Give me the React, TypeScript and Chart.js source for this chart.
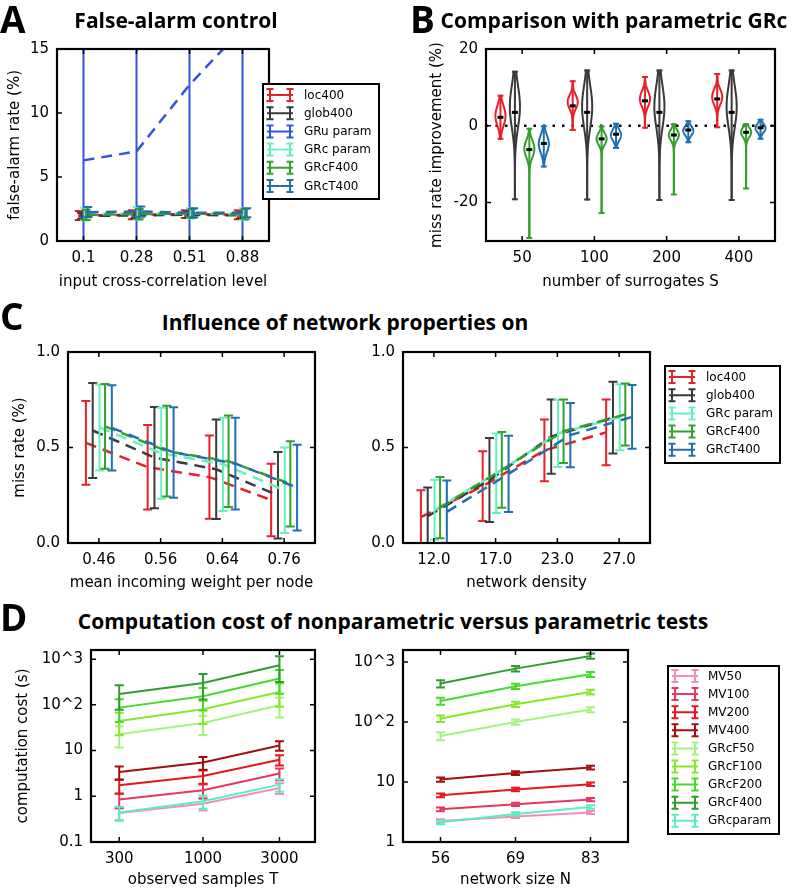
import React, { useEffect, useRef } from "react";
import { Chart, registerables } from "chart.js";

Chart.register(...registerables);

// ---------------- colours ----------------
const RED = "#e8202a";
const DARK = "#3a3a3a";
const ROYAL = "#3355dd";
const AQUA = "#66f0c0";
const GREEN = "#33a02c";
const STEEL = "#2070b0";

// ---------------- Panel A: false-alarm control ----------------
const aLevels = ["0.1", "0.28", "0.51", "0.88"];
const aNames = ["loc400", "glob400", "GRu param", "GRc param", "GRcF400", "GRcT400"];
const aColors = [RED, DARK, ROYAL, AQUA, GREEN, STEEL];
const aOffsets = [-0.08, -0.04, 0, 0.02, 0.05, 0.08];
const aLoc400 = [2.0, 2.05, 2.1, 2.05];
const aGlob400 = [1.95, 2.0, 2.05, 2.0];
const aGRuParam = [6.3, 7.0, 12.2, 16.6];
const aGRcParam = [2.1, 2.15, 2.15, 2.1];
const aGRcF400 = [2.05, 2.1, 2.15, 2.1];
const aGRcT400 = [2.25, 2.3, 2.2, 2.2];
const aLoc400Err = [0.35, 0.35, 0.3, 0.35];
const aGlob400Err = [0.25, 0.25, 0.25, 0.25];
const aGRuParamErr = [25, 25, 25, 25];
const aGRcParamErr = [0.5, 0.5, 0.4, 0.45];
const aGRcF400Err = [0.4, 0.4, 0.35, 0.4];
const aGRcT400Err = [0.4, 0.4, 0.35, 0.35];
const aYTicks = [0, 5, 10, 15];

// ---------------- Panel B: violins ----------------
const bGroups = ["50", "100", "200", "400"];
const bColors = [RED, DARK, GREEN, STEEL];
const bOffsets = [-0.3, -0.1, 0.1, 0.3];
const bMin = [
  [-3.4, -1.1, -0.5, -0.4],
  [-19.1, -19.2, -19.3, -19.3],
  [-29.2, -22.7, -17.9, -16.3],
  [-10.6, -5.8, -4.3, -3.4],
];
const bMax = [
  [7.8, 11.6, 12.7, 13.5],
  [14.1, 14.4, 14.4, 14.4],
  [-0.8, -0.2, 0.4, 0.4],
  [-0.1, 0.55, 1.2, 1.6],
];
const bMean = [
  [2.2, 5.2, 6.5, 7.0],
  [3.5, 3.5, 3.5, 3.5],
  [-6.2, -3.4, -2.4, -1.7],
  [-4.6, -2.2, -1.1, -0.5],
];
const bMode = [
  [2.6, 6.2, 7.0, 7.5],
  [5, 5, 5, 5],
  [-6, -3.4, -2.4, -1.7],
  [-4.7, -2.4, -1.3, -0.6],
];
const bSpread = [
  [2.6, 1.8, 2.0, 2.0],
  [5.5, 5.5, 5.5, 5.5],
  [2.2, 1.5, 1.4, 1.3],
  [2.3, 1.5, 1.2, 1.1],
];
const bHalfWidth = 0.07;
const bYTicks = [-20, 0, 20];

// ---------------- Panel C ----------------
const cNames = ["loc400", "glob400", "GRc param", "GRcF400", "GRcT400"];
const cColors = [RED, DARK, AQUA, GREEN, STEEL];
const cOffsets = [-0.21, -0.1, 0.01, 0.1, 0.21];
const cWeights = ["0.46", "0.56", "0.64", "0.76"];
const cwLoc400 = [0.524, 0.397, 0.345, 0.225];
const cwGlob400 = [0.589, 0.447, 0.386, 0.25];
const cwGRcParam = [0.605, 0.47, 0.412, 0.276];
const cwGRcF400 = [0.611, 0.481, 0.428, 0.31];
const cwGRcT400 = [0.603, 0.474, 0.416, 0.29];
const cwLoc400Err = [0.219, 0.221, 0.218, 0.19];
const cwGlob400Err = [0.249, 0.265, 0.26, 0.227];
const cwGRcParamErr = [0.225, 0.238, 0.244, 0.224];
const cwGRcF400Err = [0.222, 0.237, 0.24, 0.223];
const cwGRcT400Err = [0.223, 0.237, 0.24, 0.224];
const cDensity = ["12.0", "17.0", "23.0", "27.0"];
const cdLoc400 = [0.136, 0.298, 0.485, 0.579];
const cdGlob400 = [0.14, 0.33, 0.557, 0.656];
const cdGRcParam = [0.174, 0.365, 0.574, 0.658];
const cdGRcF400 = [0.185, 0.383, 0.585, 0.673];
const cdGRcT400 = [0.163, 0.362, 0.565, 0.66];
const cdLoc400Err = [0.14, 0.183, 0.162, 0.172];
const cdGlob400Err = [0.15, 0.22, 0.194, 0.188];
const cdGRcParamErr = [0.157, 0.208, 0.176, 0.173];
const cdGRcF400Err = [0.16, 0.198, 0.166, 0.162];
const cdGRcT400Err = [0.164, 0.2, 0.168, 0.167];
const cYTicks = [0, 0.5, 1.0];
const cYLabels = ["0.0", "0.5", "1.0"];

// ---------------- Panel D ----------------
const dNames = ["MV50", "MV100", "MV200", "MV400", "GRcF50", "GRcF100", "GRcF200", "GRcF400", "GRcparam"];
const dColors = ["#f48cb4", "#e8365e", "#e8141e", "#a50e0e", "#a6f27e", "#86e82a", "#44dc2c", "#2e9c2e", "#5aeec0"];
const dSamples = [300, 1000, 3000];
const dtMV50 = [0.43, 0.69, 1.52];
const dtMV100 = [0.85, 1.35, 3.14];
const dtMV200 = [1.74, 2.78, 6.3];
const dtMV400 = [3.4, 5.5, 12.9];
const dtGRcF50 = [22.7, 40, 98];
const dtGRcF100 = [44.5, 80, 191];
const dtGRcF200 = [87, 155, 376];
const dtGRcF400 = [173, 301, 735];
const dtGRcParam = [0.44, 0.78, 1.8];
const dtMV50Err = [0.13, 0.2, 0.4];
const dtMV100Err = [0.3, 0.45, 0.9];
const dtMV200Err = [0.6, 0.9, 1.6];
const dtMV400Err = [1.1, 1.7, 3.0];
const dtGRcF50Err = [11, 18, 45];
const dtGRcF100Err = [23, 42, 100];
const dtGRcF200Err = [45, 80, 200];
const dtGRcF400Err = [95, 170, 420];
const dtGRcParamErr = [0.15, 0.25, 0.55];
const dSizes = ["56", "69", "83"];
const dnMV50 = [2.24, 2.65, 3.1];
const dnMV100 = [3.5, 4.25, 5.1];
const dnMV200 = [6.0, 7.5, 9.2];
const dnMV400 = [11, 14.1, 17.4];
const dnGRcF50 = [58.5, 100, 161];
const dnGRcF100 = [114, 197, 316];
const dnGRcF200 = [224, 394, 624];
const dnGRcF400 = [437, 776, 1259];
const dnGRcParam = [2.13, 2.93, 3.83];
const dnMV50Err = [0.15, 0.15, 0.18];
const dnMV100Err = [0.25, 0.25, 0.3];
const dnMV200Err = [0.45, 0.5, 0.6];
const dnMV400Err = [0.9, 1.0, 1.2];
const dnGRcF50Err = [9, 10, 15];
const dnGRcF100Err = [14, 20, 30];
const dnGRcF200Err = [30, 40, 60];
const dnGRcF400Err = [60, 80, 130];
const dnGRcParamErr = [0.15, 0.2, 0.25];
const dLeftYTicks = [0.1, 1, 10, 100, 1000];
const dLeftYLabels = ["0.1", "1", "10", "10^2", "10^3"];
const dRightYTicks = [1, 10, 100, 1000];
const dRightYLabels = ["1", "10", "10^2", "10^3"];

// ---------------- styling helpers ----------------
const FAMILY = '"DejaVu Sans", sans-serif';
const TICK_FONT = { family: FAMILY, size: 15 };
const AXIS_FONT = { family: FAMILY, size: 15 };

type Box = { left: number; top: number; width: number; height: number };
type Plot = { l: number; t: number; r: number; b: number };

function errSeries(names: string[], colors: string[], xs: (j: number, i: number) => number, means: number[][], errs: number[][], dash: number[], width: number, cap: number) {
  return names.map((name, i) => ({
    label: name,
    data: means[i].map((v, j) => ({ x: xs(j, i), y: v })),
    err: errs[i],
    errCap: cap,
    borderColor: colors[i],
    backgroundColor: colors[i],
    borderWidth: width,
    borderDash: dash,
    pointRadius: 0,
    fill: false,
    tension: 0,
    order: names.length - i,
    legendItem: true,
  }));
}

function catX(labels: string[], title: string, min: number, max: number) {
  return {
    type: "linear",
    min,
    max,
    afterBuildTicks: (s: any) => {
      s.ticks = labels.map((_, i) => ({ value: i }));
    },
    ticks: { callback: (_v: any, i: number) => labels[i], autoSkip: false, maxRotation: 0, padding: 8, font: TICK_FONT, color: "#000" },
    grid: { display: false, drawTicks: false },
    border: { display: false },
    title: { display: true, text: title, font: AXIS_FONT, color: "#000", padding: { top: 4, bottom: 4 } },
  };
}

function valAxis(type: string, min: number, max: number, values: number[], labels: string[] | null, title: string | null, extra: any = {}) {
  return {
    type,
    min,
    max,
    afterBuildTicks: (s: any) => {
      s.ticks = values.map((v) => ({ value: v }));
    },
    ticks: {
      callback: (v: any, i: number) => (labels ? labels[i] : String(values[i])),
      autoSkip: false,
      maxRotation: 0,
      padding: 8,
      font: TICK_FONT,
      color: "#000",
    },
    grid: { display: false, drawTicks: false },
    border: { display: false },
    title: { display: !!title, text: title || "", font: AXIS_FONT, color: "#000", padding: { top: 4, bottom: 4 } },
    ...extra,
  };
}

// ---------------- plugins ----------------
const errorBarPlugin = {
  id: "errorBars",
  afterDatasetDraw(chart: any, args: any) {
    const ds = chart.data.datasets[args.index];
    if (!ds.err) return;
    const ctx = chart.ctx;
    const a = chart.chartArea;
    const ys = chart.scales[args.meta.yAxisID];
    const cap = ds.errCap ?? 4.5;
    ctx.save();
    ctx.beginPath();
    ctx.rect(a.left, a.top, a.right - a.left, a.bottom - a.top);
    ctx.clip();
    ctx.strokeStyle = ds.borderColor;
    ctx.lineWidth = 2;
    ctx.setLineDash([]);
    ds.data.forEach((p: any, i: number) => {
      const el = args.meta.data[i];
      if (!el) return;
      const x = el.x;
      const lo = ys.getPixelForValue(p.y - ds.err[i]);
      const hi = ys.getPixelForValue(p.y + ds.err[i]);
      ctx.beginPath();
      ctx.moveTo(x, lo);
      ctx.lineTo(x, hi);
      ctx.moveTo(x - cap, lo);
      ctx.lineTo(x + cap, lo);
      ctx.moveTo(x - cap, hi);
      ctx.lineTo(x + cap, hi);
      ctx.stroke();
    });
    ctx.restore();
  },
};

const framePlugin = {
  id: "frame",
  afterDraw(chart: any) {
    const ctx = chart.ctx;
    const a = chart.chartArea;
    const xs = chart.scales.x;
    const ys = chart.scales.y;
    const tl = 5;
    ctx.save();
    ctx.setLineDash([]);
    ctx.strokeStyle = "#000";
    ctx.lineWidth = 1.5;
    ctx.beginPath();
    xs.ticks.forEach((t: any) => {
      const px = xs.getPixelForValue(t.value);
      ctx.moveTo(px, a.bottom);
      ctx.lineTo(px, a.bottom - tl);
      ctx.moveTo(px, a.top);
      ctx.lineTo(px, a.top + tl);
    });
    ys.ticks.forEach((t: any) => {
      const py = ys.getPixelForValue(t.value);
      ctx.moveTo(a.left, py);
      ctx.lineTo(a.left + tl, py);
      ctx.moveTo(a.right, py);
      ctx.lineTo(a.right - tl, py);
    });
    ctx.stroke();
    ctx.lineWidth = 2.2;
    ctx.strokeRect(a.left, a.top, a.right - a.left, a.bottom - a.top);
    ctx.restore();
  },
};

const legendPlugin = {
  id: "boxLegend",
  afterDraw(chart: any, _args: any, opts: any) {
    if (!opts || !opts.show) return;
    const ctx = chart.ctx;
    const items = chart.data.datasets.filter((d: any) => d.legendItem);
    ctx.save();
    ctx.setLineDash([]);
    ctx.fillStyle = "#fff";
    ctx.fillRect(opts.x, opts.y, opts.w, opts.h);
    ctx.lineWidth = 2;
    ctx.strokeStyle = "#000";
    ctx.strokeRect(opts.x, opts.y, opts.w, opts.h);
    items.forEach((d: any, i: number) => {
      const cy = opts.firstY + i * opts.rowH;
      const x0 = opts.iconX;
      ctx.strokeStyle = d.borderColor;
      ctx.lineWidth = 2;
      ctx.beginPath();
      ctx.moveTo(x0, cy);
      ctx.lineTo(x0 + 26, cy);
      [x0 + 3, x0 + 23].forEach((px) => {
        ctx.moveTo(px, cy - 6);
        ctx.lineTo(px, cy + 6);
        ctx.moveTo(px - 3.5, cy - 6);
        ctx.lineTo(px + 3.5, cy - 6);
        ctx.moveTo(px - 3.5, cy + 6);
        ctx.lineTo(px + 3.5, cy + 6);
      });
      ctx.stroke();
      ctx.fillStyle = "#000";
      ctx.font = `12px ${FAMILY}`;
      ctx.textBaseline = "middle";
      ctx.textAlign = "left";
      ctx.fillText(d.label, opts.textX, cy + 0.5);
    });
    ctx.restore();
  },
};

const violinPlugin = {
  id: "violins",
  afterDatasetsDraw(chart: any) {
    const ctx = chart.ctx;
    const xs = chart.scales.x;
    const ys = chart.scales.y;
    ctx.save();
    ctx.setLineDash([]);
    bColors.forEach((color, s) => {
      bGroups.forEach((_g, g) => {
        const xv = g + bOffsets[s];
        const cx = xs.getPixelForValue(xv);
        const hw = Math.abs(xs.getPixelForValue(xv + bHalfWidth) - cx);
        const lo = bMin[s][g];
        const hi = bMax[s][g];
        const N = 80;
        const pts: [number, number][] = [];
        for (let k = 0; k <= N; k++) {
          const v = lo + ((hi - lo) * k) / N;
          const z = (v - bMode[s][g]) / bSpread[s][g];
          pts.push([hw * Math.exp(-0.5 * z * z), ys.getPixelForValue(v)]);
        }
        ctx.strokeStyle = color;
        ctx.lineWidth = 2;
        ctx.beginPath();
        pts.forEach(([w, y], k) => (k === 0 ? ctx.moveTo(cx + w, y) : ctx.lineTo(cx + w, y)));
        for (let k = pts.length - 1; k >= 0; k--) ctx.lineTo(cx - pts[k][0], pts[k][1]);
        ctx.closePath();
        ctx.stroke();
        const yLo = ys.getPixelForValue(lo);
        const yHi = ys.getPixelForValue(hi);
        ctx.beginPath();
        ctx.moveTo(cx, yLo);
        ctx.lineTo(cx, yHi);
        ctx.moveTo(cx - 3, yLo);
        ctx.lineTo(cx + 3, yLo);
        ctx.moveTo(cx - 3, yHi);
        ctx.lineTo(cx + 3, yHi);
        ctx.stroke();
        const ym = ys.getPixelForValue(bMean[s][g]);
        ctx.strokeStyle = "#000";
        ctx.lineWidth = 3;
        ctx.beginPath();
        ctx.moveTo(cx - 3, ym);
        ctx.lineTo(cx + 3, ym);
        ctx.stroke();
      });
    });
    ctx.restore();
  },
};

function buildConfig(box: Box, plot: Plot, datasets: any[], x: any, y: any, plugins: any[], legend: any) {
  return {
    type: "line",
    data: { datasets },
    options: {
      responsive: false,
      animation: false,
      events: [],
      layout: { padding: { left: 0, right: box.left + box.width - plot.r, top: plot.t - box.top, bottom: 0 } },
      plugins: {
        legend: { display: false },
        tooltip: { enabled: false },
        boxLegend: legend || { show: false },
      },
      scales: {
        x: {
          ...x,
          afterFit: (s: any) => {
            s.height = box.top + box.height - plot.b;
            s.paddingLeft = 0;
            s.paddingRight = 0;
          },
        },
        y: {
          ...y,
          afterFit: (s: any) => {
            s.width = plot.l - box.left;
            s.paddingTop = 0;
            s.paddingBottom = 0;
          },
        },
      },
    },
    plugins,
  };
}

function ChartCanvas({ box, make }: { box: Box; make: () => any }) {
  const ref = useRef<HTMLCanvasElement>(null);
  useEffect(() => {
    const chart = new Chart(ref.current as HTMLCanvasElement, make());
    return () => chart.destroy();
  }, []);
  return (
    <canvas
      ref={ref}
      width={box.width}
      height={box.height}
      style={{ position: "absolute", left: box.left, top: box.top, width: box.width, height: box.height }}
    />
  );
}

// ---------------- panel configs ----------------
const boxA: Box = { left: 2, top: 40, width: 383, height: 255 };
const plotA: Plot = { l: 57, t: 49, r: 269, b: 241 };
const makeA = () =>
  buildConfig(
    boxA,
    plotA,
    errSeries(
      aNames,
      aColors,
      (j, i) => j + aOffsets[i],
      [aLoc400, aGlob400, aGRuParam, aGRcParam, aGRcF400, aGRcT400],
      [aLoc400Err, aGlob400Err, aGRuParamErr, aGRcParamErr, aGRcF400Err, aGRcT400Err],
      [11, 7],
      2.5,
      4.5
    ),
    catX(aLevels, "input cross-correlation level", -0.5, 3.5),
    valAxis("linear", 0, 15, aYTicks, null, "false-alarm rate (%)"),
    [errorBarPlugin, framePlugin, legendPlugin],
    { show: true, x: 263 - boxA.left, y: 84 - boxA.top, w: 116, h: 115, firstY: 95 - boxA.top, rowH: 18.2, iconX: 267 - boxA.left, textX: 304 - boxA.left }
  );

const boxB: Box = { left: 424, top: 40, width: 371, height: 255 };
const plotB: Plot = { l: 486, t: 49, r: 775, b: 241 };
const makeB = () =>
  buildConfig(
    boxB,
    plotB,
    [
      {
        label: "zero",
        data: [
          { x: -0.5, y: 0 },
          { x: 3.5, y: 0 },
        ],
        borderColor: "#000",
        borderWidth: 2.5,
        borderDash: [2.5, 7],
        pointRadius: 0,
        fill: false,
      },
    ],
    catX(bGroups, "number of surrogates S", -0.5, 3.5),
    valAxis("linear", -30, 20, bYTicks, null, "miss rate improvement (%)"),
    [violinPlugin, framePlugin],
    null
  );

const boxC1: Box = { left: 7, top: 340, width: 318, height: 256 };
const plotC1: Plot = { l: 68, t: 352, r: 315, b: 543 };
const makeC1 = () =>
  buildConfig(
    boxC1,
    plotC1,
    errSeries(
      cNames,
      cColors,
      (j, i) => j + cOffsets[i],
      [cwLoc400, cwGlob400, cwGRcParam, cwGRcF400, cwGRcT400],
      [cwLoc400Err, cwGlob400Err, cwGRcParamErr, cwGRcF400Err, cwGRcT400Err],
      [11, 7],
      2.5,
      4.5
    ),
    catX(cWeights, "mean incoming weight per node", -0.5, 3.5),
    valAxis("linear", 0, 1, cYTicks, cYLabels, "miss rate (%)"),
    [errorBarPlugin, framePlugin],
    null
  );

const boxC2: Box = { left: 360, top: 340, width: 435, height: 256 };
const plotC2: Plot = { l: 403, t: 352, r: 650, b: 543 };
const makeC2 = () =>
  buildConfig(
    boxC2,
    plotC2,
    errSeries(
      cNames,
      cColors,
      (j, i) => j + cOffsets[i],
      [cdLoc400, cdGlob400, cdGRcParam, cdGRcF400, cdGRcT400],
      [cdLoc400Err, cdGlob400Err, cdGRcParamErr, cdGRcF400Err, cdGRcT400Err],
      [11, 7],
      2.5,
      4.5
    ),
    catX(cDensity, "network density", -0.5, 3.5),
    valAxis("linear", 0, 1, cYTicks, cYLabels, null),
    [errorBarPlugin, framePlugin, legendPlugin],
    { show: true, x: 665 - boxC2.left, y: 366 - boxC2.top, w: 115, h: 97, firstY: 377 - boxC2.top, rowH: 18.2, iconX: 669 - boxC2.left, textX: 706 - boxC2.left }
  );

const boxD1: Box = { left: 10, top: 640, width: 315, height: 251 };
const plotD1: Plot = { l: 91, t: 650, r: 315, b: 842 };
const makeD1 = () => {
  const x = valAxis("logarithmic", 200, 5000, dSamples, null, "observed samples T");
  x.title.padding = { top: 2, bottom: 2 };
  return buildConfig(
    boxD1,
    plotD1,
    errSeries(
      dNames,
      dColors,
      (j) => dSamples[j],
      [dtMV50, dtMV100, dtMV200, dtMV400, dtGRcF50, dtGRcF100, dtGRcF200, dtGRcF400, dtGRcParam],
      [dtMV50Err, dtMV100Err, dtMV200Err, dtMV400Err, dtGRcF50Err, dtGRcF100Err, dtGRcF200Err, dtGRcF400Err, dtGRcParamErr],
      [],
      2,
      4.5
    ),
    x,
    valAxis("logarithmic", 0.1, 1585, dLeftYTicks, dLeftYLabels, "computation cost (s)"),
    [errorBarPlugin, framePlugin],
    null
  );
};

const boxD2: Box = { left: 345, top: 640, width: 450, height: 251 };
const plotD2: Plot = { l: 403, t: 650, r: 628, b: 842 };
const makeD2 = () => {
  const x: any = catX(dSizes, "network size N", -0.5, 2.5);
  x.title.padding = { top: 2, bottom: 2 };
  return buildConfig(
    boxD2,
    plotD2,
    errSeries(
      dNames,
      dColors,
      (j) => j,
      [dnMV50, dnMV100, dnMV200, dnMV400, dnGRcF50, dnGRcF100, dnGRcF200, dnGRcF400, dnGRcParam],
      [dnMV50Err, dnMV100Err, dnMV200Err, dnMV400Err, dnGRcF50Err, dnGRcF100Err, dnGRcF200Err, dnGRcF400Err, dnGRcParamErr],
      [],
      2,
      4.5
    ),
    x,
    valAxis("logarithmic", 1, 1585, dRightYTicks, dRightYLabels, null),
    [errorBarPlugin, framePlugin, legendPlugin],
    { show: true, x: 668 - boxD2.left, y: 666 - boxD2.top, w: 111, h: 168, firstY: 676 - boxD2.top, rowH: 18.1, iconX: 672 - boxD2.left, textX: 708 - boxD2.left }
  );
};

// ---------------- text ----------------
const TITLE_STYLE: React.CSSProperties = {
  position: "absolute",
  fontFamily: '"Open Sans", sans-serif',
  fontWeight: 700,
  fontSize: 21,
  lineHeight: "21px",
  whiteSpace: "nowrap",
  transform: "translateX(-50%)",
  color: "#000",
};
const LETTER_STYLE: React.CSSProperties = {
  position: "absolute",
  fontFamily: '"Open Sans", sans-serif',
  fontWeight: 700,
  fontSize: 37,
  lineHeight: "37px",
  color: "#000",
};

export default function App() {
  return (
    <div style={{ position: "fixed", left: 0, top: 0, width: 795, height: 891, background: "#fff", overflow: "hidden" }}>
      <ChartCanvas box={boxA} make={makeA} />
      <ChartCanvas box={boxB} make={makeB} />
      <ChartCanvas box={boxC1} make={makeC1} />
      <ChartCanvas box={boxC2} make={makeC2} />
      <ChartCanvas box={boxD1} make={makeD1} />
      <ChartCanvas box={boxD2} make={makeD2} />
      <div style={{ ...LETTER_STYLE, left: 0, top: 0 }}>A</div>
      <div style={{ ...LETTER_STYLE, left: 410, top: 0 }}>B</div>
      <div style={{ ...LETTER_STYLE, left: 0, top: 297 }}>C</div>
      <div style={{ ...LETTER_STYLE, left: 0, top: 598 }}>D</div>
      <div style={{ ...TITLE_STYLE, left: 176, top: 10 }}>False-alarm control</div>
      <div style={{ ...TITLE_STYLE, left: 614, top: 10 }}>Comparison with parametric GRc</div>
      <div style={{ ...TITLE_STYLE, left: 345, top: 312 }}>Influence of network properties on</div>
      <div style={{ ...TITLE_STYLE, left: 393, top: 611 }}>Computation cost of nonparametric versus parametric tests</div>
    </div>
  );
}
